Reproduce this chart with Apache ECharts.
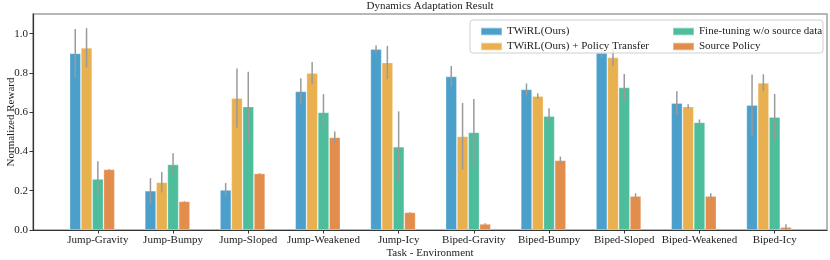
<!DOCTYPE html>
<html>
<head>
<meta charset="utf-8">
<script src="https://cdn.jsdelivr.net/npm/echarts@6/dist/echarts.min.js"></script>
<style>html,body{margin:0;padding:0;background:#fff}#c{width:830px;height:260px}</style>
</head>
<body>
<div id="c"></div>
<script>
const categories = ['Jump-Gravity','Jump-Bumpy','Jump-Sloped','Jump-Weakened','Jump-Icy','Biped-Gravity','Biped-Bumpy','Biped-Sloped','Biped-Weakened','Biped-Icy'];
const seriesNames = ['TWiRL(Ours)','TWiRL(Ours) + Policy Transfer','Fine-tuning w/o source data','Source Policy'];
const twirl      = [0.900,0.200,0.204,0.706,0.921,0.782,0.716,0.902,0.646,0.636];
const twirlErr   = [0.124,0.064,0.035,0.067,0.019,0.053,0.030,0.025,0.060,0.156];
const twirlPT    = [0.928,0.243,0.672,0.799,0.853,0.477,0.682,0.879,0.629,0.750];
const twirlPTErr = [0.100,0.052,0.150,0.056,0.085,0.170,0.015,0.043,0.011,0.043];
const finetune   = [0.260,0.334,0.629,0.599,0.424,0.497,0.580,0.726,0.548,0.575];
const finetuneErr= [0.090,0.057,0.177,0.093,0.180,0.170,0.040,0.068,0.015,0.118];
const source     = [0.309,0.146,0.288,0.472,0.090,0.031,0.355,0.173,0.173,0.015];
const sourceErr  = [0.002,0.002,0.002,0.030,0.002,0.004,0.019,0.014,0.014,0.014];
const yTicks = [0.0,0.2,0.4,0.6,0.8,1.0];

const values = [twirl, twirlPT, finetune, source];
const errors = [twirlErr, twirlPTErr, finetuneErr, sourceErr];
const colors = ['#4b9fcb','#e9b04f','#4dbd9c','#e38d4c'];
const FONT = '"Liberation Serif","DejaVu Serif",serif';
const BAR_W = 11.3;
const TXT = '#222';

const chart = echarts.init(document.getElementById('c'), null, {renderer:'canvas'});

const barSeries = values.map((vals, i) => ({
  name: seriesNames[i],
  type: 'bar',
  xAxisIndex: 1, yAxisIndex: 1,
  barWidth: BAR_W,
  barGap: '0%',
  z: 2,
  itemStyle: {color: colors[i], borderColor: 'rgba(255,255,255,0.35)', borderWidth: 0.8},
  emphasis: {disabled: true},
  data: vals
}));

const errSeries = values.map((vals, i) => ({
  type: 'custom',
  xAxisIndex: 1, yAxisIndex: 1,
  z: 3,
  silent: true,
  encode: {x: 0, y: 1},
  data: vals.map((v, k) => [k, v, errors[i][k]]),
  renderItem: function (params, api) {
    const k = api.value(0), v = api.value(1), e = api.value(2);
    const c = api.coord([k, v]);
    const x = c[0] + (i - 1.5) * BAR_W;
    const y1 = api.coord([k, v + e])[1];
    const y2 = api.coord([k, Math.max(0, v - e)])[1];
    return {type: 'line', shape: {x1: x, y1: y1, x2: x, y2: y2},
            style: {stroke: '#9a9a9a', lineWidth: 1.5}};
  }
}));

const option = {
  backgroundColor: '#fff',
  animation: false,
  title: {
    text: 'Dynamics Adaptation Result',
    left: 430, top: 1, textAlign: 'center', padding: 0,
    textStyle: {fontFamily: FONT, fontSize: 11, fontWeight: 'normal', color: TXT}
  },
  legend: [
    {data: [seriesNames[0], seriesNames[1]], orient: 'vertical', left: 475, top: 21,
     itemWidth: 21, itemHeight: 7.5, itemGap: 4, icon: 'rect', z: 6,
     textStyle: {fontFamily: FONT, fontSize: 11, color: TXT}},
    {data: [seriesNames[2], seriesNames[3]], orient: 'vertical', left: 667, top: 21,
     itemWidth: 21, itemHeight: 7.5, itemGap: 4, icon: 'rect', z: 6,
     textStyle: {fontFamily: FONT, fontSize: 11, color: TXT}}
  ],
  graphic: [{
    type: 'rect', z: 5,
    shape: {x: 470, y: 20, width: 353, height: 33, r: 3},
    style: {fill: 'rgba(255,255,255,0.8)', stroke: '#d0d0d0', lineWidth: 1}
  }],
  grid: [
    {left: 33, right: 3, top: 14, bottom: 30, outerBoundsMode: 'none', containLabel: false,
     show: true, borderColor: '#a0a0a0', borderWidth: 1.5, backgroundColor: 'transparent'},
    {left: 54.6, right: 23.4, top: 14, bottom: 30, outerBoundsMode: 'none', containLabel: false},
    {left: 60.25, right: 17.75, top: 14, bottom: 30, outerBoundsMode: 'none', containLabel: false}
  ],
  xAxis: [
    {gridIndex: 0, type: 'value', min: 0, max: 1,
     axisLine: {show: true, lineStyle: {color: '#333', width: 1.2}},
     axisTick: {show: false}, axisLabel: {show: false}, splitLine: {show: false},
     name: 'Task - Environment', nameLocation: 'middle', nameGap: 18, nameMoveOverlap: false,
     nameTextStyle: {fontFamily: FONT, fontSize: 11, color: TXT}},
    {gridIndex: 1, type: 'category', data: categories,
     axisLine: {show: false}, axisTick: {show: false}, axisLabel: {show: false}},
    {gridIndex: 2, type: 'category', data: categories,
     axisLine: {show: false},
     axisTick: {show: true, alignWithLabel: true, length: 3.5, lineStyle: {color: '#333'}},
     axisLabel: {show: true, interval: 0, margin: 5, fontFamily: FONT, fontSize: 11, color: TXT}}
  ],
  yAxis: [
    {gridIndex: 0, type: 'value', min: 0, max: 1.1, interval: 0.2,
     axisLine: {show: true, lineStyle: {color: '#333', width: 1.2}},
     axisTick: {show: true, length: 3.5, lineStyle: {color: '#333'}},
     axisLabel: {margin: 5, fontFamily: FONT, fontSize: 11, color: TXT, showMaxLabel: false,
       formatter: v => (yTicks.some(t => Math.abs(t - v) < 1e-6) ? v.toFixed(1) : '')},
     splitLine: {show: false},
     name: 'Normalized Reward', nameLocation: 'middle', nameGap: 16, nameMoveOverlap: false,
     nameTextStyle: {fontFamily: FONT, fontSize: 11, color: TXT}},
    {gridIndex: 1, type: 'value', min: 0, max: 1.1, show: false},
    {gridIndex: 2, type: 'value', min: 0, max: 1.1, show: false}
  ],
  series: barSeries.concat(errSeries)
};
chart.setOption(option);
</script>
</body>
</html>
